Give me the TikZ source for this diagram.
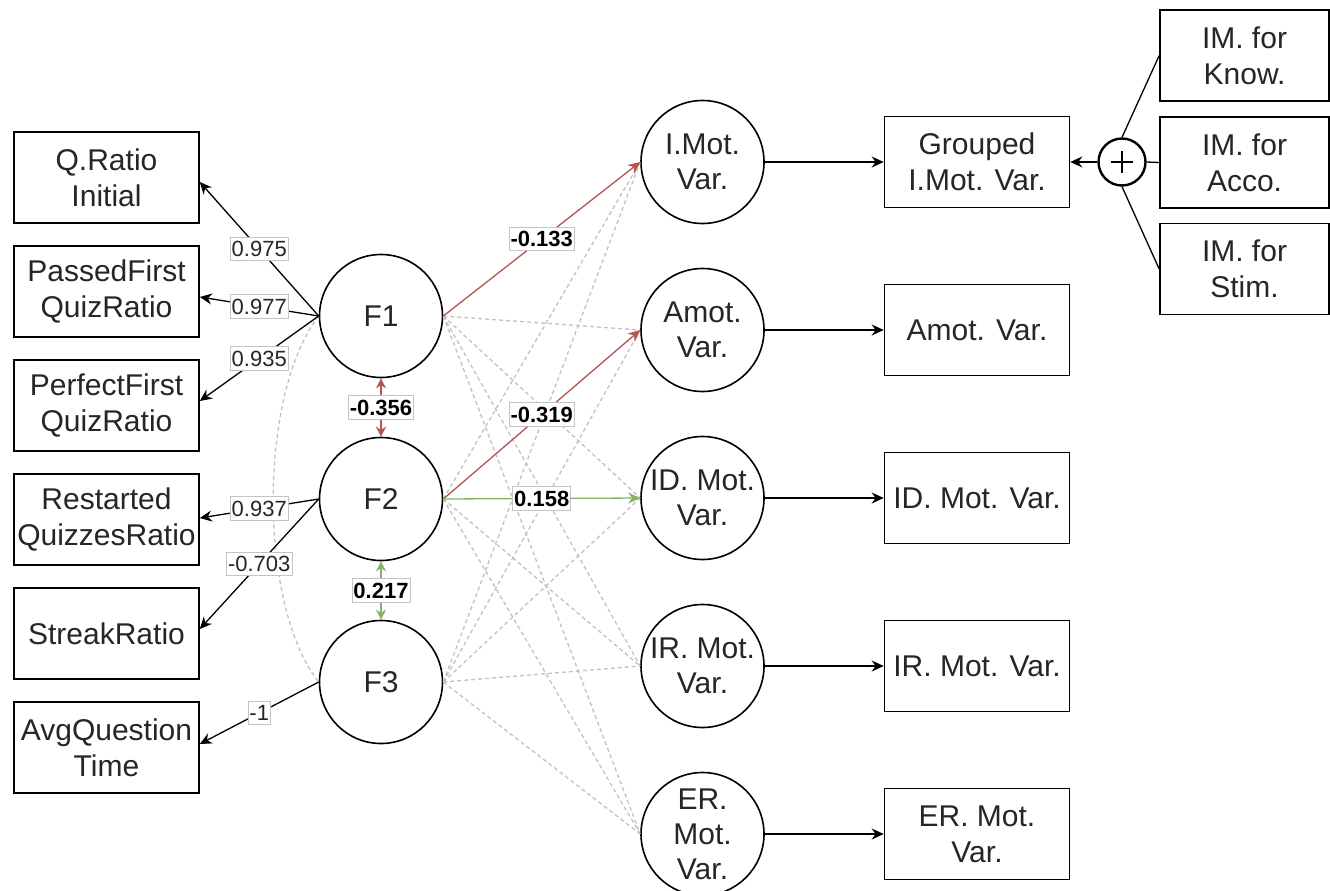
\documentclass[tikz,border=0pt]{standalone}
\usepackage{fontspec}
\setmainfont{Liberation Sans}
\usetikzlibrary{arrows.meta,calc}
\definecolor{redE}{HTML}{B85450}
\definecolor{greenE}{HTML}{82B366}
\definecolor{dashE}{HTML}{C2C2C2}
\definecolor{txt}{HTML}{262626}
\definecolor{lblborder}{HTML}{C4C4C4}
\begin{document}
\begin{tikzpicture}[x=1pt,y=-1pt,
  box/.style={draw=black,line width=1.6pt,minimum width=185pt,minimum height=91pt,inner sep=0pt,align=center,font=\fontsize{30}{36}\selectfont,text=txt},
  imbox/.style={box,minimum width=169pt},
  lat/.style={draw=black,line width=1.6pt,circle,minimum size=123pt,inner sep=0pt,align=center,font=\fontsize{30}{35}\selectfont,text=txt},
  arr/.style={line width=1.3pt,-{Stealth[length=12pt,width=11pt]}},
  dsh/.style={line width=1.3pt,draw=dashE,dash pattern=on 4pt off 3pt},
  lbl/.style={draw=lblborder,fill=white,line width=0.8pt,inner xsep=1.5pt,inner ysep=4pt,font=\fontsize{22}{24}\selectfont,text=txt},
  blbl/.style={lbl,font=\fontsize{22}{24}\selectfont\bfseries,text=black},
  dbl/.style={line width=1.4pt,{Stealth[length=10pt,width=10pt]}-{Stealth[length=10pt,width=10pt]}}
]
\fill[white] (0,0) rectangle (1330,891);
\useasboundingbox (0,0) rectangle (1330,891);

% left observed boxes
\node[box] (q)  at (106.5,177.5) {Q.Ratio\\Initial};
\node[box] (pa) at (106.5,291.5) {PassedFirst\\QuizRatio};
\node[box] (pe) at (106.5,405.5) {PerfectFirst\\QuizRatio};
\node[box] (re) at (106.5,519.5) {Restarted\\QuizzesRatio};
\node[box] (st) at (106.5,633.5) {StreakRatio};
\node[box] (av) at (106.5,747.5) {AvgQuestion\\Time};

% factors
\node[lat] (f1) at (381,316) {F1};
\node[lat] (f2) at (381,499) {F2};
\node[lat] (f3) at (381,682) {F3};

% motivation circles
\node[lat] (m1) at (702.5,162) {I.Mot.\\Var.};
\node[lat] (m2) at (702.5,330) {Amot.\\Var.};
\node[lat] (m3) at (702.5,498) {ID. Mot.\\Var.};
\node[lat] (m4) at (702.5,666) {IR. Mot.\\Var.};
\node[lat] (m5) at (702.5,834) {ER.\\Mot.\\Var.};

% right boxes
\node[box] (g1) at (977,162) {Grouped\\I.Mot. Var.};
\node[box] (g2) at (977,330) {Amot. Var.};
\node[box] (g3) at (977,498) {ID. Mot. Var.};
\node[box] (g4) at (977,666) {IR. Mot. Var.};
\node[box] (g5) at (977,834) {ER. Mot.\\Var.};

% IM boxes
\node[imbox] (k1) at (1244.5,55.5) {IM. for\\Know.};
\node[imbox] (k2) at (1244.5,162.5) {IM. for\\Acco.};
\node[imbox] (k3) at (1244.5,269) {IM. for\\Stim.};

% plus
\node[draw=black,circle,line width=2.4pt,minimum size=47pt,inner sep=0pt] (plus) at (1122,162) {};
\draw[line width=2.8pt] ($(plus.center)+(-11,0)$) -- ($(plus.center)+(11,0)$);
\draw[line width=2.8pt] ($(plus.center)+(0,-11)$) -- ($(plus.center)+(0,11)$);

% dashed non-significant paths
\draw[dsh] (f1.west) .. controls (258,395) and (258,605) .. (f3.west);
\draw[dsh] (f1.east) -- (m2.west);
\draw[dsh] (f1.east) -- (m3.west);
\draw[dsh] (f1.east) -- (m4.west);
\draw[dsh] (f1.east) -- (m5.west);
\draw[dsh] (f2.east) -- (m1.west);
\draw[dsh] (f2.east) -- (m4.west);
\draw[dsh] (f2.east) -- (m5.west);
\draw[dsh] (f3.east) -- (m1.west);
\draw[dsh] (f3.east) -- (m2.west);
\draw[dsh] (f3.east) -- (m3.west);
\draw[dsh] (f3.east) -- (m4.west);
\draw[dsh] (f3.east) -- (m5.west);

% loadings
\draw[arr] (f1.west) -- ([yshift=-4.5pt]q.east) node[lbl,midway]{0.975};
\draw[arr] (f1.west) -- ([yshift=-5.5pt]pa.east) node[lbl,midway]{0.977};
\draw[arr] (f1.west) -- ([yshift=4.5pt]pe.east) node[lbl,midway]{0.935};
\draw[arr] (f2.west) -- ([yshift=1.5pt]re.east) node[lbl,midway]{0.937};
\draw[arr] (f2.west) -- ([yshift=4.5pt]st.east) node[lbl,midway]{-0.703};
\draw[arr] (f3.west) -- ([yshift=3.5pt]av.east) node[lbl,midway]{-1};

% covariances
\draw[dbl,redE] (f1.south) -- (f2.north) node[blbl,midway]{-0.356};
\draw[dbl,greenE] (f2.south) -- (f3.north) node[blbl,midway]{0.217};

% significant paths
\draw[arr,redE] (f1.east) -- (m1.west) node[blbl,midway]{-0.133};
\draw[arr,redE] (f2.east) -- (m2.west) node[blbl,midway]{-0.319};
\draw[arr,greenE] (f2.east) -- (m3.west) node[blbl,midway]{0.158};

% to observed motivation
\draw[arr] (m1.east) -- (g1.west);
\draw[arr] (m2.east) -- (g2.west);
\draw[arr] (m3.east) -- (g3.west);
\draw[arr] (m4.east) -- (g4.west);
\draw[arr] (m5.east) -- (g5.west);

% grouping
\draw[line width=1.3pt] (k1.west) -- (plus.north);
\draw[line width=1.3pt] (k2.west) -- (plus.east);
\draw[line width=1.3pt] (k3.west) -- (plus.south);
\draw[arr] (plus.west) -- (g1.east);
\end{tikzpicture}
\end{document}
